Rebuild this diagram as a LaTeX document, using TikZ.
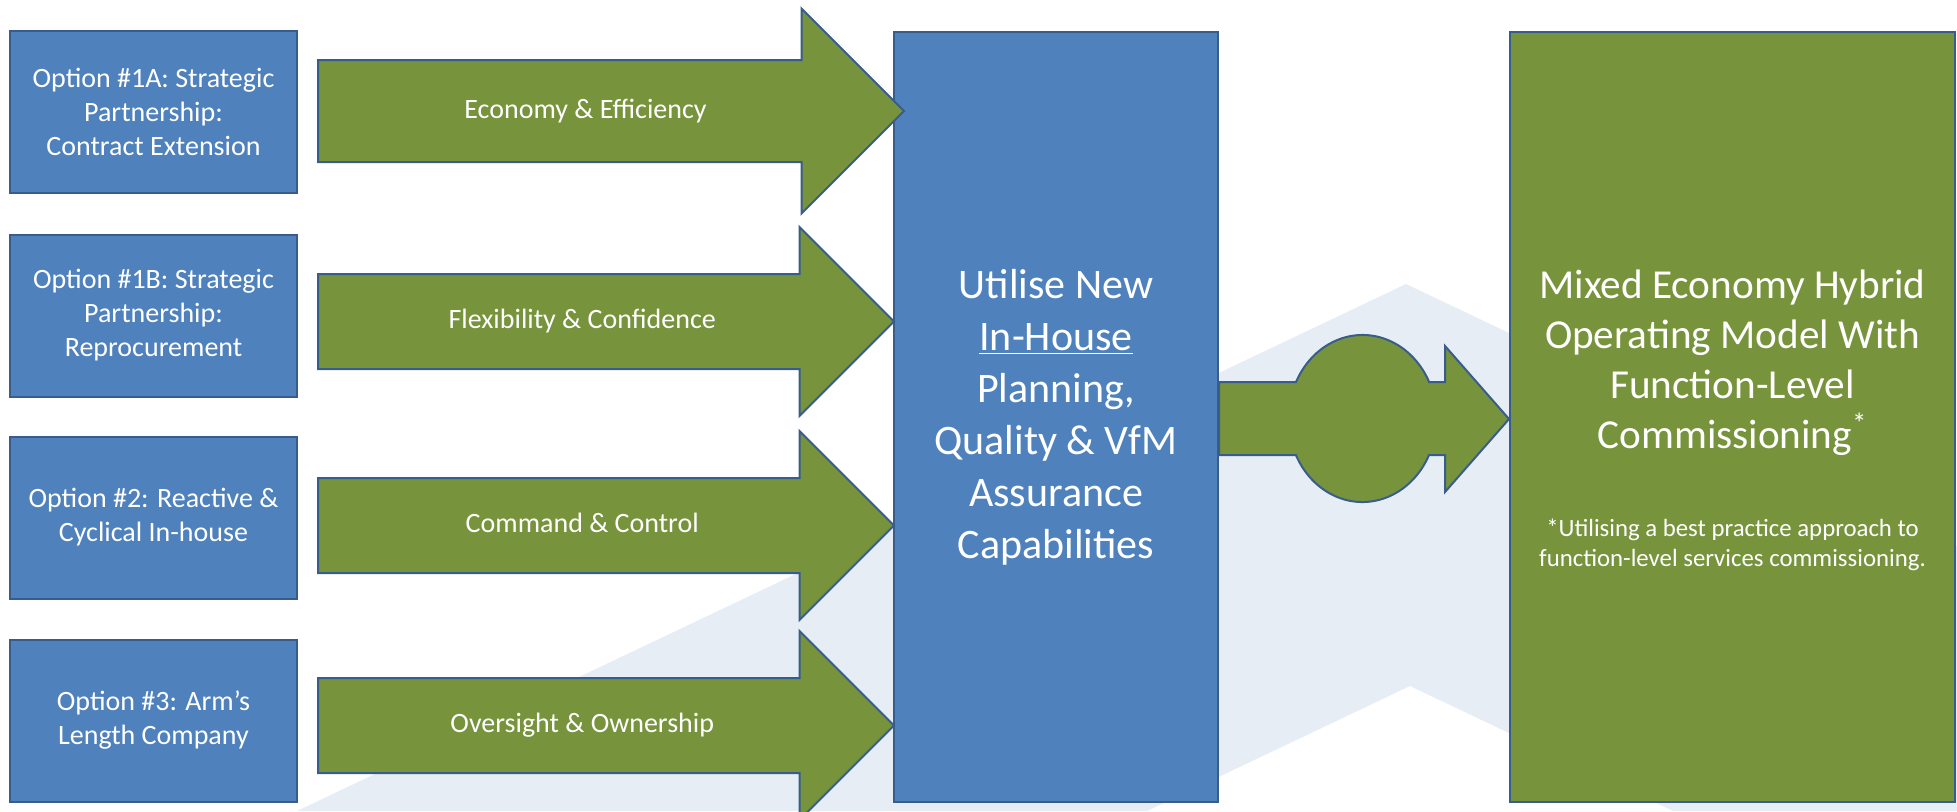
\documentclass[tikz,border=0pt]{standalone}
\usepackage{fontspec}
\setmainfont{Carlito}
\usetikzlibrary{shapes.arrows}

\definecolor{optblue}{HTML}{4F81BD}
\definecolor{edgeblue}{HTML}{385D8A}
\definecolor{olive}{HTML}{77933C}
\definecolor{pale}{HTML}{E6EDF5}

\begin{document}
\begin{tikzpicture}[x=0.5pt,y=0.5pt,
    optbox/.style={draw=edgeblue,line width=1pt,fill=optblue,text=white,align=center,
      minimum width=143.5pt,minimum height=81pt,font=\fontsize{14}{17}\selectfont},
    flow/.style={single arrow,draw=edgeblue,line width=1pt,fill=olive,text=white,
      anchor=tail,inner xsep=1pt,inner ysep=16.75pt,text height=10pt,text depth=3pt,
      minimum height=288pt,minimum width=93.5pt,
      single arrow head extend=23.5pt,font=\fontsize{14}{17}\selectfont},
    bigbox/.style={draw=edgeblue,line width=1pt,text=white,align=center,
      minimum width=#1,minimum height=385pt}]
    \useasboundingbox (0,0) rectangle (1957,811);
    % pale chevron behind everything
    \fill [pale,even odd rule] (297,0) -- (1406,527) -- (1957,265) -- (1957,0) -- cycle
      (1147,0) -- (1410,125) -- (1673,0) -- cycle;

    \node [optbox] (opt1a) at (153.5,699) {Option \#1A: Strategic\\Partnership:\\Contract Extension};
    \node [optbox] (opt1b) at (153.5,495.5) {Option \#1B: Strategic\\Partnership:\\Reprocurement};
    \node [optbox] (opt2) at (153.5,293.5) {Option \#2: Reactive \&\\Cyclical In-house};
    \node [optbox] (opt3) at (153.5,90.5) {Option \#3: Arm’s\\Length Company};

    \node [bigbox=162pt,fill=optblue,font=\fontsize{21}{26}\selectfont] (plan) at (1056,394)
      {Utilise New\\\underline{In-House}\\Planning,\\Quality \& VfM\\Assurance\\Capabilities};
    \node [bigbox=222.5pt,fill=olive] (model) at (1732.5,394) {};
    \node [text=white,align=center,font=\fontsize{20.6}{25}\selectfont] (modeltxt)
      at ([yshift=27pt]model.center)
      {Mixed Economy Hybrid\\Operating Model With\\Function-Level\\Commissioning\textsuperscript{*}};
    \node [text=white,align=center,font=\fontsize{12.4}{15}\selectfont] (note)
      at ([yshift=-64pt]model.center)
      {*Utilising a best practice approach to\\function-level services commissioning.};

    \node [flow,inner ysep=18.5pt,minimum height=293pt,minimum width=101.5pt,
      single arrow head extend=25.75pt] (econ) at (317,700) {Economy \& Efficiency};
    \node [flow] (flex) at (317,489.5) {Flexibility \& Confidence};
    \node [flow] (cmd) at (317,285.5) {Command \& Control};
    \node [flow] (own) at (317,85.5) {Oversight \& Ownership};

    % arrow with the round bulge between the two big boxes
    \draw [edgeblue,line width=1pt,fill=olive] (plan.east |- 0,429) -- (1296,429)
      arc [start angle=154.1,end angle=25.9,x radius=74,y radius=83.5]
      -- (1445,429) -- (1445,465) -- (model.west |- 0,392) -- (1445,319) -- (1445,356) -- (1429,356)
      arc [start angle=-25.9,end angle=-154.1,x radius=74,y radius=83.5]
      -- (plan.east |- 0,356) -- cycle;
\end{tikzpicture}
\end{document}
